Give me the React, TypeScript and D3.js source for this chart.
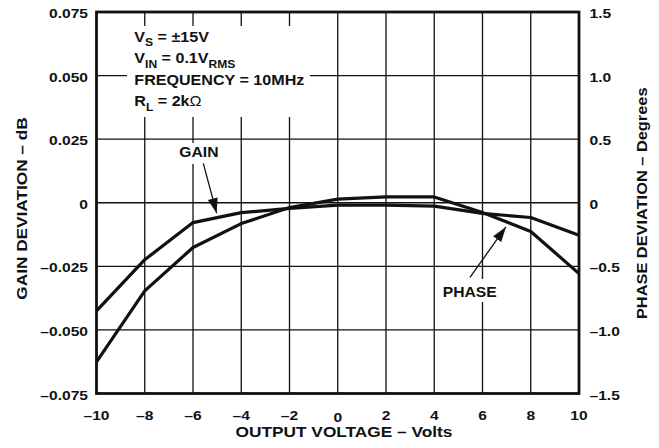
import React from 'react';
import * as d3 from 'd3';

// ---- data ----
const voltage = [-10, -8, -6, -4, -2, 0, 2, 4, 6, 8, 10];
const gainDev = [-0.0425, -0.0224, -0.0078, -0.0039, -0.0022, -0.0009, -0.0009, -0.0013, -0.0042, -0.0058, -0.0128];
const phaseDev = [-1.252, -0.693, -0.352, -0.164, -0.038, 0.028, 0.046, 0.046, -0.077, -0.226, -0.557];

const xTicks = [-10, -8, -6, -4, -2, 0, 2, 4, 6, 8, 10];
const xTickLabels = ['–10', '–8', '–6', '–4', '–2', '0', '2', '4', '6', '8', '10'];
const gainTicks = [0.075, 0.05, 0.025, 0, -0.025, -0.05, -0.075];
const gainTickLabels = ['0.075', '0.050', '0.025', '0', '–0.025', '–0.050', '–0.075'];
const phaseTicks = [1.5, 1, 0.5, 0, -0.5, -1, -1.5];
const phaseTickLabels = ['1.5', '1.0', '0.5', '0', '–0.5', '–1.0', '–1.5'];

// arrow tips in data coordinates
const gainArrowTip = { v: -5.02, g: -0.0041 };
const phaseArrowTip = { v: 6.97, p: -0.19 };

const W = 659;
const H = 448;
const M = { left: 96.5, right: 579, top: 12, bottom: 393.5 };
const FONT = 'Liberation Sans, Arial, Helvetica, sans-serif';
const SX = 1.2; // glyph stretch seen in the reference

function arrowHead(x1: number, y1: number, x2: number, y2: number, len = 15, half = 5) {
  const dx = x2 - x1;
  const dy = y2 - y1;
  const L = Math.hypot(dx, dy);
  const ux = dx / L;
  const uy = dy / L;
  const bx = x2 - ux * len;
  const by = y2 - uy * len;
  const px = -uy;
  const py = ux;
  return `${x2},${y2} ${bx + px * half},${by + py * half} ${bx - px * half},${by - py * half}`;
}

type TProps = {
  x: number;
  y: number;
  size: number;
  anchor?: 'start' | 'middle' | 'end';
  sx?: number;
  rot?: number;
  children: React.ReactNode;
};

function T({ x, y, size, anchor = 'start', sx = SX, rot = 0, children }: TProps) {
  return (
    <g transform={`translate(${x},${y}) rotate(${rot}) scale(${sx},1)`}>
      <text
        x={0}
        y={0}
        textAnchor={anchor}
        fontSize={size}
        fontFamily={FONT}
        fontWeight={700}
        fill="#111"
      >
        {children}
      </text>
    </g>
  );
}

export default function App() {
  const x = d3.scaleLinear().domain([-10, 10]).range([M.left, M.right]);
  const yG = d3.scaleLinear().domain([-0.075, 0.075]).range([M.bottom, M.top]);
  const yP = d3.scaleLinear().domain([-1.5, 1.5]).range([M.bottom, M.top]);

  const gainLine = d3
    .line<number>()
    .x((_, i) => x(voltage[i]))
    .y((d) => yG(d))(gainDev) as string;
  const phaseLine = d3
    .line<number>()
    .x((_, i) => x(voltage[i]))
    .y((d) => yP(d))(phaseDev) as string;

  const gTip = { x: x(gainArrowTip.v), y: yG(gainArrowTip.g) };
  const gTail = { x: 203.3, y: 163.3 };
  const pTip = { x: x(phaseArrowTip.v), y: yP(phaseArrowTip.p) };
  const pTail = { x: 470, y: 277.3 };

  return (
    <svg
      width={W}
      height={H}
      style={{ position: 'absolute', left: 0, top: 0, background: '#fff' }}
    >
      <rect x={0} y={0} width={W} height={H} fill="#fff" />
      {/* grid */}
      <g stroke="#111" strokeWidth={1.3}>
        {xTicks.slice(1, -1).map((t) => (
          <line key={'vx' + t} x1={x(t)} x2={x(t)} y1={M.top} y2={M.bottom} />
        ))}
        {gainTicks.slice(1, -1).map((t) => (
          <line key={'hy' + t} x1={M.left} x2={M.right} y1={yG(t)} y2={yG(t)} />
        ))}
      </g>
      {/* white label backgrounds */}
      <rect x={127} y={26} width={183} height={91} fill="#fff" />
      <rect x={176} y={143} width={46} height={21} fill="#fff" />
      <rect x={439} y={279} width={61} height={23} fill="#fff" />
      {/* frame */}
      <rect
        x={M.left}
        y={M.top}
        width={M.right - M.left}
        height={M.bottom - M.top}
        fill="none"
        stroke="#111"
        strokeWidth={2.8}
      />
      {/* curves */}
      <path d={gainLine} fill="none" stroke="#111" strokeWidth={3.2} strokeLinejoin="round" />
      <path d={phaseLine} fill="none" stroke="#111" strokeWidth={3.2} strokeLinejoin="round" />

      {/* arrows */}
      <line x1={gTail.x} y1={gTail.y} x2={gTip.x} y2={gTip.y} stroke="#111" strokeWidth={1.3} />
      <polygon points={arrowHead(gTail.x, gTail.y, gTip.x, gTip.y)} fill="#111" />
      <line x1={pTail.x} y1={pTail.y} x2={pTip.x} y2={pTip.y} stroke="#111" strokeWidth={1.3} />
      <polygon points={arrowHead(pTail.x, pTail.y, pTip.x, pTip.y)} fill="#111" />

      {/* left ticks */}
      {gainTicks.map((t, i) => (
        <T key={'gl' + t} x={88} y={yG(t) + 6} size={13} anchor="end">
          {gainTickLabels[i]}
        </T>
      ))}
      {/* right ticks */}
      {phaseTicks.map((t, i) => (
        <T key={'pl' + t} x={589.5} y={yP(t) + 6} size={13} anchor="start">
          {phaseTickLabels[i]}
        </T>
      ))}
      {/* bottom ticks */}
      {xTicks.map((t, i) => (
        <T key={'xl' + t} x={x(t)} y={M.bottom + (t === 0 ? 28.2 : 26.5)} size={13} anchor="middle">
          {xTickLabels[i]}
        </T>
      ))}

      {/* axis titles */}
      <T x={344} y={436.7} size={14} anchor="middle" sx={1.235}>
        OUTPUT VOLTAGE – Volts
      </T>
      <T x={26.7} y={208.5} size={14} anchor="middle" sx={1.23} rot={-90}>
        GAIN DEVIATION – dB
      </T>
      <T x={646.7} y={203.3} size={14} anchor="middle" sx={1.17} rot={-90}>
        PHASE DEVIATION – Degrees
      </T>

      {/* conditions */}
      <T x={134.3} y={41.7} size={14} sx={1.15}>
        V<tspan fontSize={10.5} dy={4}>S</tspan>
        <tspan dy={-4}> = ±15V</tspan>
      </T>
      <T x={134.3} y={63.3} size={14} sx={1.15}>
        V<tspan fontSize={10.5} dy={4.5}>IN</tspan>
        <tspan dy={-4.5}> = 0.1V</tspan>
        <tspan fontSize={10.5} dy={4.5}>RMS</tspan>
      </T>
      <T x={134.3} y={85} size={14} sx={1.15}>
        FREQUENCY = 10MHz
      </T>
      <T x={134.3} y={106} size={14} sx={1.15}>
        R<tspan fontSize={10.5} dy={4.5}>L</tspan>
        <tspan dy={-4.5}> = 2k</tspan>
        <tspan fontWeight={400}>Ω</tspan>
      </T>
      <T x={179.3} y={157.3} size={14} sx={1.12}>
        GAIN
      </T>
      <T x={442.7} y={296.7} size={14} sx={1.12}>
        PHASE
      </T>
    </svg>
  );
}
